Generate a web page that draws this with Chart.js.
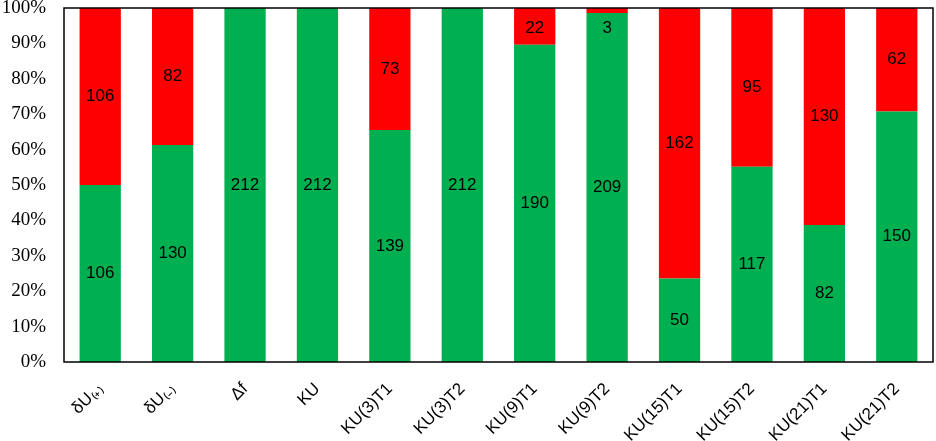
<!DOCTYPE html>
<html>
<head>
<meta charset="utf-8">
<script src="https://cdn.jsdelivr.net/npm/chart.js@4"></script>
<style>
  html, body { margin: 0; padding: 0; background: #fff; }
  #wrap { width: 936px; height: 441px; }
</style>
</head>
<body>
<div id="wrap"><canvas id="chart"></canvas></div>
<script>
// categorias e contagens
const categories = ["δU₍₊₎", "δU₍₋₎", "Δf", "KU", "KU(3)T1", "KU(3)T2", "KU(9)T1", "KU(9)T2", "KU(15)T1", "KU(15)T2", "KU(21)T1", "KU(21)T2"];
const greenCounts = [106, 130, 212, 212, 139, 212, 190, 209, 50, 117, 82, 150];
const redCounts = [106, 82, 0, 0, 73, 0, 22, 3, 162, 95, 130, 62];
const yTicks = [0, 10, 20, 30, 40, 50, 60, 70, 80, 90, 100];

// converter contagens em percentagem (100% empilhado)
const totals = greenCounts.map((g, i) => g + redCounts[i]);
const toPct = (arr) => arr.map((v, i) => (v / totals[i]) * 100);

// rótulos no meio de cada segmento + moldura da área do gráfico
const segmentLabels = {
  id: "segmentLabels",
  afterDatasetsDraw(chart) {
    const { ctx, chartArea } = chart;
    ctx.save();
    ctx.font = "17px 'Liberation Sans', Arial, sans-serif";
    ctx.fillStyle = "#000";
    ctx.textAlign = "center";
    ctx.textBaseline = "middle";
    chart.data.datasets.forEach((ds, di) => {
      const meta = chart.getDatasetMeta(di);
      meta.data.forEach((bar, i) => {
        const count = ds.counts[i];
        if (!count) return;
        const center = (bar.y + bar.base) / 2;
        const y = Math.max(center, chartArea.top + 20);
        ctx.fillText(String(count), bar.x, y);
      });
    });
    ctx.restore();
  },
  afterDraw(chart) {
    const { ctx, chartArea } = chart;
    ctx.save();
    ctx.strokeStyle = "#000";
    ctx.lineWidth = 1.5;
    ctx.strokeRect(chartArea.left, chartArea.top, chartArea.right - chartArea.left, chartArea.bottom - chartArea.top);
    ctx.restore();
  },
};

new Chart(document.getElementById("chart"), {
  type: "bar",
  data: {
    labels: categories,
    datasets: [
      {
        data: toPct(greenCounts),
        counts: greenCounts,
        backgroundColor: "#00B050",
        barPercentage: 0.57,
        categoryPercentage: 1,
      },
      {
        data: toPct(redCounts),
        counts: redCounts,
        backgroundColor: "#FF0000",
        barPercentage: 0.57,
        categoryPercentage: 1,
      },
    ],
  },
  options: {
    responsive: true,
    maintainAspectRatio: false,
    animation: false,
    layout: { padding: { top: 8, right: 3, left: 0, bottom: 0 } },
    plugins: { legend: { display: false }, tooltip: { enabled: false } },
    scales: {
      x: {
        stacked: true,
        grid: { display: false, drawTicks: false },
        border: { display: false },
        ticks: {
          color: "#000",
          font: { family: "'Liberation Sans', Arial, sans-serif", size: 17 },
          minRotation: 45,
          maxRotation: 45,
          padding: 17,
        },
        afterFit(scale) {
          scale.height = 79;
          scale.paddingLeft = 0;
          scale.paddingRight = 0;
        },
      },
      y: {
        stacked: true,
        min: 0,
        max: 100,
        grid: { display: false, drawTicks: false },
        border: { display: false },
        afterBuildTicks(scale) { scale.ticks = yTicks.map((v) => ({ value: v })); },
        ticks: {
          color: "#000",
          font: { family: "'Liberation Serif', 'Times New Roman', serif", size: 19 },
          padding: 18,
          callback: (v) => v + "%",
        },
        afterFit(scale) {
          scale.width = 64;
          scale.paddingTop = 0;
          scale.paddingBottom = 0;
        },
      },
    },
  },
  plugins: [segmentLabels],
});
</script>
</body>
</html>
